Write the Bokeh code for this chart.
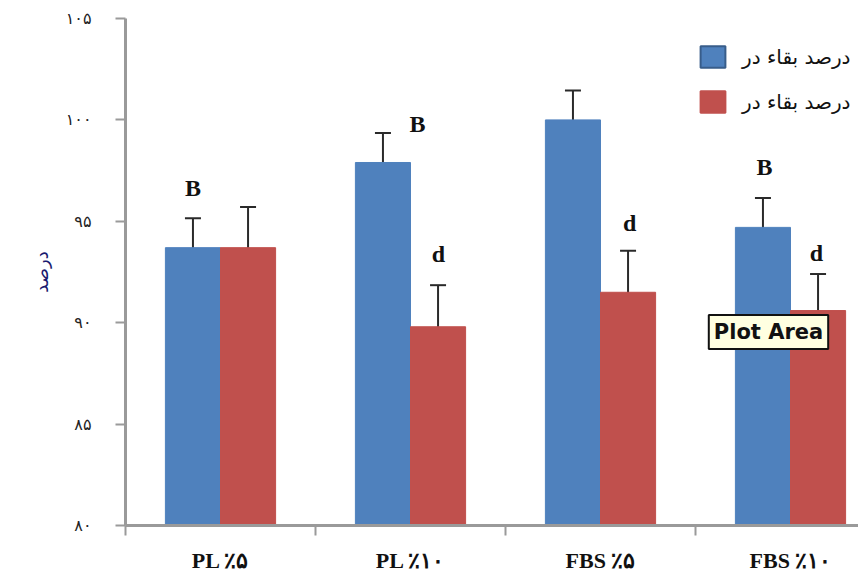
from bokeh.plotting import figure
from bokeh.models import (Range1d, FixedTicker, ColumnDataSource, Whisker, TeeHead,
                          Legend, LegendItem, Label, Title)
from bokeh.core.properties import value
from bokeh.embed import file_html
from bokeh.resources import INLINE

# ---- data ----
categories = ["PL ٪۵", "PL ٪۱۰", "FBS ٪۵", "FBS ٪۱۰"]
blue_vals = [93.7, 97.9, 100.0, 94.7]
blue_err = [1.45, 1.45, 1.45, 1.45]
red_vals = [93.7, 89.8, 91.5, 90.6]
red_err = [2.0, 2.05, 2.05, 1.8]
legend_labels = ["درصد بقاء در", "درصد بقاء در"]
y_ticks = [80, 85, 90, 95, 100, 105]
y_tick_labels = ["۸۰", "۸۵", "۹۰", "۹۵", "۱۰۰", "۱۰۵"]
y_title = "درصد"
sig_letters = ["B", "B", "d", "d", "B", "d"]
sig_cat = [0, 1, 1, 2, 3, 3]
sig_x_off = [-0.145, 0.037, 0.147, 0.153, -0.137, 0.137]
sig_y = [96.65, 99.8, 93.4, 94.9, 97.7, 93.45]

BLUE = "#4F81BD"
RED = "#C0504D"
bw = 0.29

p = figure(frame_width=733, frame_height=507, output_backend="svg", toolbar_location=None,
           x_range=Range1d(0, 733 / 190), y_range=Range1d(80, 105),
           min_border_left=125, min_border_right=0, min_border_top=18,
           min_border_bottom=54)
p.outline_line_color = None
p.grid.visible = False
p.background_fill_color = "white"

n = len(categories)
bx = [i + 0.5 - bw / 2 for i in range(n)]
rx = [i + 0.5 + bw / 2 for i in range(n)]

src_b = ColumnDataSource(dict(x=bx, top=blue_vals,
                              lo=[v - e for v, e in zip(blue_vals, blue_err)],
                              hi=[v + e for v, e in zip(blue_vals, blue_err)]))
src_r = ColumnDataSource(dict(x=rx, top=red_vals,
                              lo=[v - e for v, e in zip(red_vals, red_err)],
                              hi=[v + e for v, e in zip(red_vals, red_err)]))

p.vbar(x="x", top="top", bottom=80, width=bw, source=src_b,
       fill_color=BLUE, line_color=BLUE)
p.vbar(x="x", top="top", bottom=80, width=bw, source=src_r,
       fill_color=RED, line_color=RED)

for src in (src_b, src_r):
    w = Whisker(base="x", upper="hi", lower="lo", source=src,
                line_color="#2a2a2a", line_width=2,
                upper_head=TeeHead(size=16, line_color="#2a2a2a", line_width=2),
                lower_head=TeeHead(size=16, line_color="#2a2a2a", line_width=2))
    p.add_layout(w)

# significance letters
p.text(x=[c + 0.5 + o for c, o in zip(sig_cat, sig_x_off)], y=sig_y, text=sig_letters,
       text_font=value("Liberation Serif"), text_font_style="bold",
       text_font_size="24px", text_color="#111111",
       text_align="center", text_baseline="middle")

# legend swatches: hidden renderers over the real data, styled like the swatches
lb = p.vbar(x="x", top="top", bottom=80, width=bw, source=src_b,
            fill_color=BLUE, line_color="#385D8A", line_width=2, visible=False)
lr = p.vbar(x="x", top="top", bottom=80, width=bw, source=src_r,
            fill_color=RED, line_color=RED, line_width=2, visible=False)
legend = Legend(items=[LegendItem(label=legend_labels[0], renderers=[lb]),
                       LegendItem(label=legend_labels[1], renderers=[lr])],
                location=(572, 410), padding=0, spacing=18,
                glyph_width=31, glyph_height=27, label_standoff=14,
                label_text_font="DejaVu Sans", label_text_font_size="20px",
                label_text_color="#111111", inactive_fill_alpha=0,
                border_line_color=None, background_fill_alpha=0)
p.add_layout(legend)

# tooltip artifact
p.add_layout(Label(x=3.07, y=88.7, text="Plot Area", text_font="DejaVu Sans",
                   text_font_size="21px", text_font_style="bold", text_color="#111111",
                   background_fill_color="#FFFFE1", border_line_color="#111111",
                   border_line_width=2, padding=5))

# x axis
xa = p.xaxis[0]
xa.ticker = FixedTicker(ticks=[i + 0.5 for i in range(n)], minor_ticks=list(range(n + 1)))
xa.major_label_overrides = {i + 0.5: c for i, c in enumerate(categories)}
xa.major_tick_out = 0
xa.major_tick_in = 0
xa.minor_tick_out = 10
xa.minor_tick_in = 0
xa.minor_tick_line_color = "#9a9a9a"
xa.minor_tick_line_width = 2
xa.axis_line_color = "#9a9a9a"
xa.axis_line_width = 3
xa.major_label_standoff = 12
xa.major_label_text_font = "Liberation Serif"
xa.major_label_text_font_style = "bold"
xa.major_label_text_font_size = "22px"
xa.major_label_text_color = "#111111"

# y axis
ya = p.yaxis[0]
ya.ticker = FixedTicker(ticks=y_ticks, minor_ticks=[])
ya.major_label_overrides = {t: l for t, l in zip(y_ticks, y_tick_labels)}
ya.major_tick_out = 10
ya.major_tick_in = 0
ya.major_tick_line_color = "#9a9a9a"
ya.major_tick_line_width = 2
ya.axis_line_color = "#9a9a9a"
ya.axis_line_width = 3
ya.major_label_standoff = 24
ya.major_label_text_font = "DejaVu Sans"
ya.major_label_text_font_size = "16px"
ya.major_label_text_color = "#222222"

# y title as a left-side title, shifted up to where the reference has it
p.add_layout(Title(text=y_title, align="center", offset=49, standoff=22,
                   text_font="DejaVu Sans", text_font_style="normal",
                   text_font_size="18px", text_color="#1a1a6e"), "left")

open("out.html", "w").write(file_html(p, INLINE))
